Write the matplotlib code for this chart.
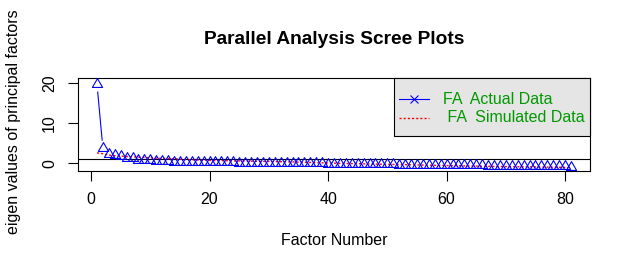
import numpy as np
import matplotlib
matplotlib.use('Agg')
import matplotlib.pyplot as plt
from matplotlib.path import Path
from matplotlib.patches import Rectangle

plt.rcParams['font.family'] = ['Liberation Sans', 'DejaVu Sans']

# eigen values (81 factors)
fa_actual = [19.8, 3.8, 2.3, 2.1, 1.9, 1.4, 1.2, 0.9, 0.8, 0.7,
             0.55, 0.5, 0.45, 0.42, 0.4, 0.38, 0.36, 0.34, 0.32, 0.3,
             0.28, 0.27, 0.25, 0.2, 0.18, 0.16, 0.15, 0.13, 0.12, 0.1,
             0.09, 0.07, 0.05, 0.03, 0.02, 0.0, -0.02, -0.03, -0.05, -0.06,
             -0.08, -0.09, -0.11, -0.12, -0.14, -0.15, -0.17, -0.18, -0.2, -0.22,
             -0.25, -0.32, -0.34, -0.36, -0.38, -0.4, -0.41, -0.43, -0.44, -0.46,
             -0.47, -0.49, -0.5, -0.52, -0.53, -0.55, -0.56, -0.58, -0.59, -0.61,
             -0.62, -0.64, -0.65, -0.67, -0.75, -0.76, -0.77, -0.78, -0.79, -0.8,
             -0.81]
fa_simulated = [2.6, 2.4, 2.05, 1.9, 1.8, 1.7, 1.6, 1.52, 1.45, 1.38,
                1.3, 1.24, 1.18, 1.1, 1.02, 0.95, 0.88, 0.82, 0.77, 0.72,
                0.69, 0.66, 0.63, 0.6, 0.58, 0.55, 0.53, 0.5, 0.47, 0.45,
                0.42, 0.39, 0.36, 0.33, 0.29, 0.25, 0.2, 0.15, 0.11, 0.07,
                0.03, -0.01, -0.05, -0.08, -0.11, -0.14, -0.17, -0.2, -0.23, -0.26,
                -0.29, -0.32, -0.35, -0.38, -0.41, -0.44, -0.47, -0.5, -0.53, -0.56,
                -0.59, -0.62, -0.65, -0.68, -0.7, -0.73, -0.75, -0.78, -0.8, -0.82,
                -0.84, -0.86, -0.88, -0.9, -0.92, -0.94, -0.96, -0.98, -1.0, -1.02,
                -1.05]
factor_no = np.arange(1, len(fa_actual) + 1)
x_ticks = [0, 20, 40, 60, 80]
y_ticks = [0, 10, 20]
legend_labels = ['FA  Actual Data', ' FA  Simulated Data']

W, H = 631, 269
fig = plt.figure(figsize=(W / 100, H / 100), dpi=100)
ax = fig.add_axes([78 / W, 1 - 171 / H, 512 / W, 92.7 / H])
ax.set_xlim(-2.2, 84.2)
ax.set_ylim(-1.93, 21.25)

# R style open triangle (pch = 2)
tri = Path([(0, 1), (0.866, -0.5), (-0.866, -0.5), (0, 1)],
           [Path.MOVETO, Path.LINETO, Path.LINETO, Path.CLOSEPOLY])

ax.plot(factor_no, fa_actual, linestyle='none', marker=tri, ms=8.5,
        mfc='none', mec='blue', mew=0.8, zorder=3)

# type="b": segments with a gap round each point
pts = ax.transData.transform(np.column_stack([factor_no, fa_actual]))
gap = 8.0
for p0, p1 in zip(pts[:-1], pts[1:]):
    d = np.hypot(*(p1 - p0))
    if d > 2 * gap:
        u = (p1 - p0) / d
        seg = ax.transData.inverted().transform([p0 + u * gap, p1 - u * gap])
        ax.plot(seg[:, 0], seg[:, 1], color='blue', lw=0.8, zorder=3)

ax.plot(factor_no, fa_simulated, color='red', lw=1.0,
        linestyle=(0, (1.5, 1.5)), zorder=2)
ax.axhline(1, color='black', lw=0.8, zorder=1)

ax.set_xticks(x_ticks)
ax.set_yticks(y_ticks)
ax.tick_params(direction='out', length=7.2, width=0.8, labelsize=11.5, pad=8)
for lab in ax.get_yticklabels():
    lab.set_rotation(90)
    lab.set_va('center')
for s in ax.spines.values():
    s.set_linewidth(0.8)

ax.set_xlabel('Factor Number', fontsize=11.5)
ax.xaxis.set_label_coords(0.5, -0.67)
ax.set_ylabel('eigen values of principal factors', fontsize=11.5)
ax.yaxis.set_label_coords(-0.111, 0.53)
fig.text(ax.get_position().x0 + ax.get_position().width / 2, 1 - 40 / H,
         'Parallel Analysis Scree Plots', fontsize=13.8, fontweight='bold',
         ha='center', va='center')

# legend box drawn R style
ax.add_patch(Rectangle((0.617, 0.374), 0.383, 0.626, transform=ax.transAxes,
                       facecolor='#e5e5e5', edgecolor='black', lw=0.8,
                       zorder=5, clip_on=False))
ax.plot([0.627, 0.686], [0.773, 0.773], transform=ax.transAxes,
        color='blue', lw=0.8, zorder=6)
ax.plot([0.656], [0.773], transform=ax.transAxes, marker='x', ms=6,
        mec='blue', mew=0.8, zorder=6)
ax.plot([0.627, 0.686], [0.572, 0.572], transform=ax.transAxes,
        color='red', lw=1.0, linestyle=(0, (1.5, 1.5)), zorder=6)
for yy, lab in zip([0.773, 0.572], legend_labels):
    ax.text(0.713, yy, lab, transform=ax.transAxes, color='#009900',
            fontsize=11.5, va='center', ha='left', zorder=6)

fig.savefig('out.png', dpi=100)
